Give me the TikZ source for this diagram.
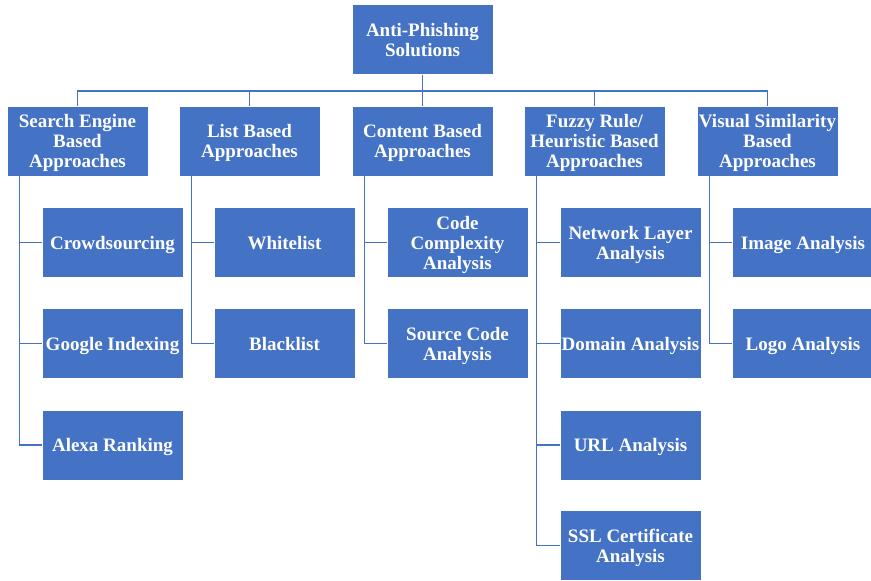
\documentclass[tikz,border=0pt]{standalone}
\usepackage{fontspec}
\setmainfont{Liberation Serif}
\definecolor{boxblue}{HTML}{4472C4}
\begin{document}
\begin{tikzpicture}[x=1pt,y=-1pt,
  box/.style={draw=white, line width=0.8pt, fill=boxblue, text=white,
    font=\bfseries\fontsize{19}{20}\selectfont, align=center,
    minimum width=141pt, minimum height=70pt, inner sep=0pt, text depth=0pt},
  link/.style={draw=boxblue, line width=1.3pt}]
\useasboundingbox (0,0) rectangle (871,581);
\coordinate (bus) at (0,91);
\node[box] (root) at (422.5,39.5) {Anti-Phishing\\Solutions};
\node[box] (se) at (77.5,141) {Search Engine\\Based\\Approaches};
\node[box] (lb) at (249.5,141) {List Based\\Approaches};
\node[box] (cb) at (422.5,141) {Content Based\\Approaches};
\node[box] (fz) at (594.5,141) {Fuzzy Rule/\\Heuristic Based\\Approaches};
\node[box] (vs) at (767.5,141) {Visual Similarity\\Based\\Approaches};
% children
\node[box] (crowd) at (112.5,242.5) {Crowdsourcing};
\node[box] (google) at (112.5,343.5) {Google Indexing};
\node[box] (alexa) at (112.5,445) {Alexa Ranking};
\node[box] (white) at (284.5,242.5) {Whitelist};
\node[box] (black) at (284.5,343.5) {Blacklist};
\node[box] (code) at (457.5,242.5) {Code\\Complexity\\Analysis};
\node[box] (source) at (457.5,343.5) {Source Code\\Analysis};
\node[box] (net) at (630.5,242.5) {Network Layer\\Analysis};
\node[box] (domain) at (630.5,343.5) {Domain Analysis};
\node[box] (url) at (630.5,445) {URL Analysis};
\node[box] (ssl) at (630.5,545.5) {SSL Certificate\\Analysis};
\node[box] (image) at (803,242.5) {Image Analysis};
\node[box] (logo) at (803,343.5) {Logo Analysis};
% top connectors
\draw[link] (root.south) -- (root.south |- bus) -| (se.north);
\draw[link] (root.south |- bus) -| (lb.north);
\draw[link] (root.south |- bus) -- (cb.north);
\draw[link] (root.south |- bus) -| (fz.north);
\draw[link] (root.south |- bus) -| (vs.north);
% child connectors
\foreach \p/\c in {se/crowd, se/google, se/alexa, lb/white, lb/black, cb/code, cb/source, fz/net, fz/domain, fz/url, fz/ssl, vs/image, vs/logo}
  \draw[link] ([xshift=13pt]\p.south west) |- (\c.west);
\end{tikzpicture}
\end{document}
